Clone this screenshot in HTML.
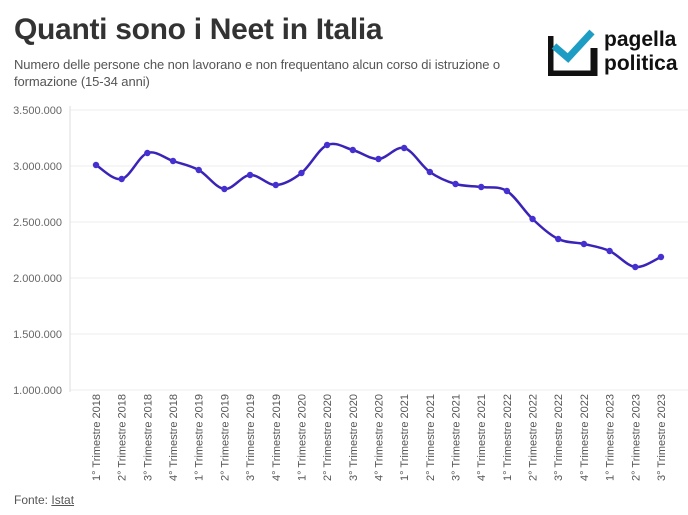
<!DOCTYPE html>
<html><head><meta charset="utf-8"><style>
body{margin:0;background:#fff;width:688px;height:515px;overflow:hidden;font-family:"Liberation Sans",sans-serif;}
.t{position:absolute;left:14px;top:13px;font-size:30px;font-weight:bold;color:#333;letter-spacing:-0.3px}
.s{position:absolute;left:14px;top:56px;font-size:13px;color:#555;line-height:17px;width:525px;letter-spacing:-0.1px}
.f{position:absolute;left:14px;top:493px;font-size:12px;color:#555}
</style></head><body>
<div class="t">Quanti sono i Neet in Italia</div>
<div class="s">Numero delle persone che non lavorano e non frequentano alcun corso di istruzione o formazione (15-34 anni)</div>
<svg style="position:absolute;left:548px;top:26px" width="140" height="50">
<path d="M2 10 V48 H46 V22" fill="none" stroke="#111" stroke-width="7"/>
<path d="M6 20 L20 32 L44 6" fill="none" stroke="#1e9dc4" stroke-width="7"/>
<text x="56" y="20" font-family="Liberation Sans" font-weight="bold" font-size="21" fill="#111">pagella</text>
<text x="56" y="44" font-family="Liberation Sans" font-weight="bold" font-size="21" fill="#111">politica</text>
</svg>
<svg id="c" style="position:absolute;left:0;top:0" width="688" height="515"></svg>
<div class="f">Fonte: <span style="text-decoration:underline">Istat</span></div>
<script>
var s='',ys=[165,179,153,161,170,189,175,185,173,145,150,159,148,172,184,187,191,219,239,244,251,267,257];
var yv=['3.500.000','3.000.000','2.500.000','2.000.000','1.500.000','1.000.000'];
for(var i=0;i<6;i++){var y=110+i*56;s+='<line x1="70" x2="688" y1="'+y+'" y2="'+y+'" stroke="#eee"/><text x="62" y="'+(y+4)+'" text-anchor="end" font-size="11" fill="#666" font-family="Liberation Sans">'+yv[i]+'</text>';}
s+='<line x1="70" x2="70" y1="106" y2="392" stroke="#ddd"/>';
var xs=[];for(i=0;i<23;i++)xs.push(96+i*25.68);
var d='M'+xs[0]+' '+ys[0];
for(i=0;i<22;i++){var p0=i?i-1:0,p3=i<21?i+2:22;
var c1x=xs[i]+(xs[i+1]-xs[p0])/6,c1y=ys[i]+(ys[i+1]-ys[p0])/6,c2x=xs[i+1]-(xs[p3]-xs[i])/6,c2y=ys[i+1]-(ys[p3]-ys[i])/6;
d+=' C'+c1x+' '+c1y+' '+c2x+' '+c2y+' '+xs[i+1]+' '+ys[i+1];}
s+='<path d="'+d+'" fill="none" stroke="#3a24b8" stroke-width="2.5"/>';
for(i=0;i<23;i++){s+='<circle cx="'+xs[i]+'" cy="'+ys[i]+'" r="3.2" fill="#4530d0"/>';
var q=i%4+1,yr=2018+Math.floor(i/4);
s+='<text transform="translate('+(xs[i]+4)+',394) rotate(-90)" text-anchor="end" font-size="11" fill="#555" font-family="Liberation Sans">'+q+'° Trimestre '+yr+'</text>';}
document.getElementById('c').innerHTML=s;
</script>
</body></html>
